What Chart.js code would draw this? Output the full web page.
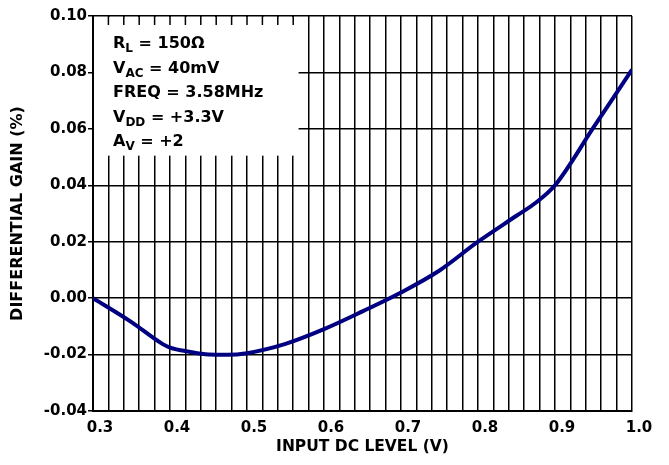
<!DOCTYPE html>
<html>
<head>
<meta charset="utf-8">
<script src="https://cdn.jsdelivr.net/npm/chart.js@4.4.1/dist/chart.umd.min.js"></script>
<style>
  html, body { margin: 0; padding: 0; background: #fff; }
  #wrap { width: 669px; height: 465px; }
</style>
</head>
<body>
<div id="wrap"><canvas id="dgChart"></canvas></div>
<script>
// input DC level (V) and differential gain (%)
const inputLevel = [0.30, 0.35, 0.39, 0.40, 0.425, 0.45, 0.475, 0.50, 0.55, 0.60, 0.65, 0.70, 0.75, 0.80, 0.85, 0.875, 0.90, 0.95, 1.00];
const diffGain   = [0.000, -0.0085, -0.0162, -0.0175, -0.0190, -0.0200, -0.0201, -0.0195, -0.0162, -0.0110, -0.0047, 0.0020, 0.0098, 0.0200, 0.0292, 0.0338, 0.0400, 0.0605, 0.0810];

const xTickLabels = ['0.3', '0.4', '0.5', '0.6', '0.7', '0.8', '0.9', '1.0'];
const yTickLabels = ['-0.04', '-0.02', '0.00', '0.02', '0.04', '0.06', '0.08', '0.10'];

// test conditions shown in the corner box: [main text, subscript, rest]
const conditions = [
    ['R', 'L', ' = 150\u03A9'],
    ['V', 'AC', ' = 40mV'],
    ['FREQ = 3.58MHz', '', ''],
    ['V', 'DD', ' = +3.3V'],
    ['A', 'V', ' = +2']
];

const FONT = 'DejaVu Sans';

// white box with the test conditions, drawn over the grid
const conditionsBox = {
    id: 'conditionsBox',
    beforeDatasetsDraw(chart) {
        const { ctx, chartArea, scales } = chart;
        const x0 = chartArea.left + 1;
        const x1 = scales.x.getPixelForValue(0.567);
        const y0 = chartArea.top + 1;
        const y1 = scales.y.getPixelForValue(0.0505);
        ctx.save();
        ctx.fillStyle = '#fff';
        ctx.fillRect(x0, y0, x1 - x0, y1 - y0);

        // short grid stubs hanging from the top edge
        ctx.strokeStyle = '#000';
        ctx.lineWidth = 1.5;
        for (let v = 0.32; v < 0.567; v += 0.02) {
            const px = scales.x.getPixelForValue(v);
            ctx.beginPath();
            ctx.moveTo(px, chartArea.top);
            ctx.lineTo(px, chartArea.top + 9);
            ctx.stroke();
        }

        ctx.fillStyle = '#000';
        ctx.textBaseline = 'alphabetic';
        conditions.forEach((row, i) => {
            let x = chartArea.left + 20;
            const y = chartArea.top + 32 + i * 24.5;
            ctx.font = 'bold 16px "' + FONT + '"';
            ctx.fillText(row[0], x, y);
            x += ctx.measureText(row[0]).width;
            if (row[1]) {
                ctx.font = 'bold 12px "' + FONT + '"';
                ctx.fillText(row[1], x, y + 4);
                x += ctx.measureText(row[1]).width;
            }
            if (row[2]) {
                ctx.font = 'bold 16px "' + FONT + '"';
                ctx.fillText(row[2], x, y);
            }
        });
        ctx.restore();
    }
};

new Chart(document.getElementById('dgChart'), {
    type: 'line',
    data: {
        datasets: [{
            data: inputLevel.map((x, i) => ({ x: x, y: diffGain[i] })),
            borderColor: '#000080',
            borderWidth: 4,
            pointRadius: 0,
            fill: false,
            cubicInterpolationMode: 'monotone'
        }]
    },
    options: {
        responsive: true,
        maintainAspectRatio: false,
        animation: false,
        layout: { padding: { top: 16, right: 37, left: 0, bottom: 0 } },
        plugins: {
            legend: { display: false },
            tooltip: { enabled: false }
        },
        scales: {
            x: {
                type: 'linear',
                min: 0.3,
                max: 1.0,
                afterFit(scale) { scale.height = 54; },
                ticks: {
                    stepSize: 0.02,
                    autoSkip: false,
                    maxRotation: 0,
                    padding: 8,
                    labelOffset: 7,
                    color: '#000',
                    font: { family: FONT, size: 15, weight: 'bold' },
                    callback(value) {
                        const s = value.toFixed(1);
                        return Math.abs(value * 10 - Math.round(value * 10)) < 1e-6 && xTickLabels.includes(s) ? s : '';
                    }
                },
                grid: { color: '#000', lineWidth: 1.5, drawTicks: false },
                border: { color: '#000', width: 2 },
                title: {
                    display: true,
                    text: 'INPUT DC LEVEL (V)',
                    color: '#000',
                    padding: { top: 2, bottom: 9 },
                    font: { family: FONT, size: 15.5, weight: 'bold' }
                }
            },
            y: {
                min: -0.04,
                max: 0.10,
                afterFit(scale) { scale.width = 93; },
                ticks: {
                    stepSize: 0.02,
                    padding: 1,
                    color: '#000',
                    font: { family: FONT, size: 15, weight: 'bold' },
                    callback(value) {
                        const s = value.toFixed(2);
                        return yTickLabels.includes(s) ? s : (s === '-0.00' ? '0.00' : '');
                    }
                },
                grid: { color: '#000', lineWidth: 1.5, tickLength: 5 },
                border: { color: '#000', width: 2 },
                title: {
                    display: true,
                    text: 'DIFFERENTIAL GAIN (%)',
                    color: '#000',
                    padding: { top: 8, bottom: 0 },
                    font: { family: FONT, size: 16, weight: 'bold' }
                }
            }
        }
    },
    plugins: [conditionsBox]
});
</script>
</body>
</html>
